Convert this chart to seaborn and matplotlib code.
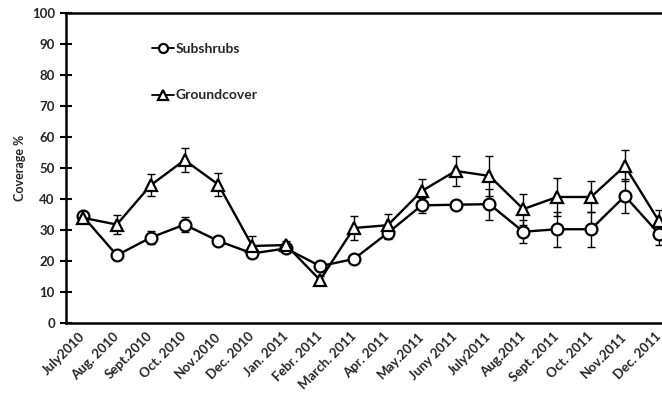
import numpy as np
import pandas as pd
import matplotlib
matplotlib.use("Agg")
import matplotlib.pyplot as plt
import seaborn as sns

months = ["July2010", "Aug. 2010", "Sept.2010", "Oct. 2010", "Nov.2010", "Dec. 2010",
          "Jan. 2011", "Febr. 2011", "March. 2011", "Apr. 2011", "May.2011", "Juny 2011",
          "July2011", "Aug.2011", "Sept. 2011", "Oct. 2011", "Nov.2011", "Dec. 2011"]
subshrubs = [34.5, 21.9, 27.6, 31.8, 26.5, 22.5, 24.1, 18.4, 20.7, 29.1, 38.0, 38.2,
             38.4, 29.5, 30.3, 30.3, 41.0, 28.9]
subshrubs_err = [1.5, 1.2, 2.0, 2.3, 1.0, 1.2, 1.0, 1.5, 1.2, 2.0, 2.5, 1.5,
                 5.0, 3.8, 5.7, 5.7, 5.6, 3.7]
groundcover = [34.0, 31.8, 44.5, 52.6, 44.7, 24.9, 25.2, 13.9, 30.7, 31.6, 42.6, 49.1,
               47.5, 36.8, 40.7, 40.7, 50.7, 33.0]
groundcover_err = [1.2, 3.0, 3.5, 4.0, 3.8, 3.3, 1.2, 1.2, 4.0, 3.5, 4.0, 4.8,
                   6.4, 5.0, 6.0, 5.0, 5.0, 3.5]

sns.set_style("white")
plt.rcParams['font.family'] = ['Lato', 'DejaVu Sans']
plt.rcParams['font.weight'] = 'bold'

df = pd.DataFrame({"x": np.arange(len(months)), "Subshrubs": subshrubs,
                   "Groundcover": groundcover})

fig = plt.figure(figsize=(6.62, 3.98), dpi=100)
ax = fig.add_axes([0.0997, 0.188, 0.921, 0.779])

ax.errorbar(df["x"], subshrubs, yerr=subshrubs_err, fmt='none', ecolor='black',
            elinewidth=1.0, capsize=3, capthick=1.0, zorder=2)
ax.errorbar(df["x"], groundcover, yerr=groundcover_err, fmt='none', ecolor='black',
            elinewidth=1.0, capsize=3, capthick=1.0, zorder=2)

sns.lineplot(data=df, x="x", y="Subshrubs", ax=ax, color='black', linewidth=1.7,
             marker='o', markersize=8.5, markerfacecolor='white', markeredgecolor='black',
             markeredgewidth=1.6, label="Subshrubs", zorder=3)
sns.lineplot(data=df, x="x", y="Groundcover", ax=ax, color='black', linewidth=1.7,
             marker='^', markersize=8.5, markerfacecolor='white', markeredgecolor='black',
             markeredgewidth=1.6, label="Groundcover", zorder=3)

ax.set_xlim(-0.5, len(months) - 0.5)
ax.set_ylim(0, 100)
ax.set_yticks(np.arange(0, 101, 10))
ax.set_xticks(np.arange(len(months)))
ax.set_xticklabels(months, rotation=45, ha='right', va='center', rotation_mode='anchor',
                   fontsize=9.5, fontweight='bold')
ax.set_xticks(np.arange(len(months) + 1) - 0.5, minor=True)
ax.tick_params(axis='x', which='major', length=0, pad=8)
ax.tick_params(axis='x', which='minor', direction='inout', length=9, width=1.5, color='black')
ax.tick_params(axis='y', direction='inout', length=8, width=1.5, color='black',
               labelsize=9.5, pad=4, left=True)
for lab in ax.get_yticklabels():
    lab.set_fontweight('bold')
ax.set_xlabel("")
ax.set_ylabel("Coverage %", fontsize=9, fontweight='bold', labelpad=4)

for side in ['left', 'bottom', 'top']:
    ax.spines[side].set_visible(True)
    ax.spines[side].set_color('black')
    ax.spines[side].set_linewidth(1.8)
ax.spines['right'].set_visible(False)

leg = ax.legend(loc='upper left', bbox_to_anchor=(0.12, 0.945), frameon=False,
                handlelength=1.6, handletextpad=0.1, labelspacing=2.5,
                prop={'weight': 'bold', 'size': 10})
for h in leg.legend_handles:
    h.set_markersize(6.5)
    h.set_linewidth(1.3)

fig.savefig("out.png", dpi=100)
